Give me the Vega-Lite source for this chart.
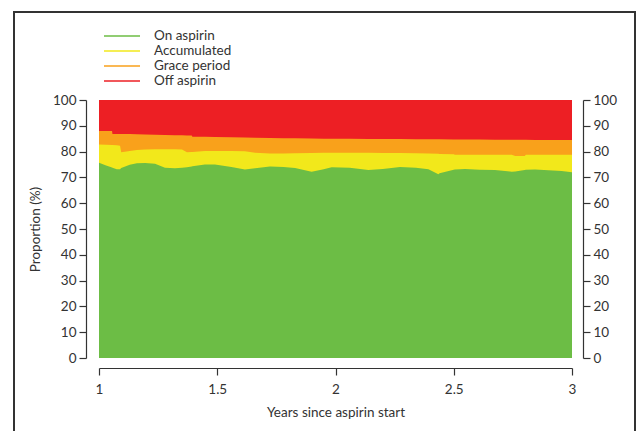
{
  "$schema": "https://vega.github.io/schema/vega-lite/v6.json",
  "width": 473,
  "height": 258,
  "autosize": "none",
  "padding": {"left": 99, "top": 100, "right": 64, "bottom": 73},
  "background": "white",
  "config": {
    "font": "Lato",
    "view": {"stroke": null},
    "axis": {
      "grid": false,
      "domainColor": "#333333",
      "tickColor": "#333333",
      "labelColor": "#333333",
      "titleColor": "#333333",
      "labelFontSize": 13.5,
      "titleFontSize": 13.5,
      "titleFontWeight": "normal",
      "tickSize": 7,
      "domainWidth": 1.2,
      "tickWidth": 1.2
    }
  },
  "data": {
    "values": [
      {"years": 1.000, "on": 75.7, "accumulated": 82.8, "grace": 88.0},
      {"years": 1.030, "on": 74.6, "accumulated": 82.7, "grace": 88.0},
      {"years": 1.055, "on": 73.8, "accumulated": 82.6, "grace": 88.0},
      {"years": 1.057, "on": 73.7, "accumulated": 82.6, "grace": 86.8},
      {"years": 1.075, "on": 73.2, "accumulated": 82.5, "grace": 86.8},
      {"years": 1.089, "on": 73.2, "accumulated": 82.3, "grace": 86.8},
      {"years": 1.094, "on": 73.6, "accumulated": 79.7, "grace": 86.8},
      {"years": 1.130, "on": 74.9, "accumulated": 80.2, "grace": 86.8},
      {"years": 1.160, "on": 75.5, "accumulated": 80.6, "grace": 86.7},
      {"years": 1.195, "on": 75.6, "accumulated": 80.8, "grace": 86.6},
      {"years": 1.237, "on": 75.3, "accumulated": 80.9, "grace": 86.5},
      {"years": 1.279, "on": 73.7, "accumulated": 80.9, "grace": 86.4},
      {"years": 1.321, "on": 73.5, "accumulated": 80.9, "grace": 86.3},
      {"years": 1.351, "on": 73.7, "accumulated": 80.8, "grace": 86.3},
      {"years": 1.372, "on": 73.9, "accumulated": 79.7, "grace": 86.2},
      {"years": 1.392, "on": 74.2, "accumulated": 79.8, "grace": 86.2},
      {"years": 1.395, "on": 74.3, "accumulated": 79.8, "grace": 85.8},
      {"years": 1.448, "on": 75.0, "accumulated": 80.2, "grace": 85.8},
      {"years": 1.490, "on": 75.0, "accumulated": 80.2, "grace": 85.7},
      {"years": 1.560, "on": 74.0, "accumulated": 80.2, "grace": 85.6},
      {"years": 1.617, "on": 73.1, "accumulated": 80.1, "grace": 85.5},
      {"years": 1.660, "on": 73.5, "accumulated": 79.6, "grace": 85.4},
      {"years": 1.723, "on": 74.2, "accumulated": 79.3, "grace": 85.3},
      {"years": 1.780, "on": 74.0, "accumulated": 79.3, "grace": 85.2},
      {"years": 1.829, "on": 73.6, "accumulated": 79.4, "grace": 85.2},
      {"years": 1.899, "on": 72.2, "accumulated": 79.5, "grace": 85.1},
      {"years": 1.950, "on": 73.2, "accumulated": 79.6, "grace": 85.0},
      {"years": 1.984, "on": 73.9, "accumulated": 79.6, "grace": 85.0},
      {"years": 2.060, "on": 73.7, "accumulated": 79.6, "grace": 85.0},
      {"years": 2.139, "on": 72.9, "accumulated": 79.6, "grace": 84.9},
      {"years": 2.200, "on": 73.3, "accumulated": 79.5, "grace": 84.9},
      {"years": 2.273, "on": 74.0, "accumulated": 79.5, "grace": 84.9},
      {"years": 2.340, "on": 73.7, "accumulated": 79.4, "grace": 84.8},
      {"years": 2.393, "on": 73.2, "accumulated": 79.3, "grace": 84.8},
      {"years": 2.435, "on": 71.2, "accumulated": 79.2, "grace": 84.8},
      {"years": 2.440, "on": 71.6, "accumulated": 79.1, "grace": 84.8},
      {"years": 2.500, "on": 73.0, "accumulated": 79.0, "grace": 84.7},
      {"years": 2.505, "on": 73.1, "accumulated": 78.8, "grace": 84.7},
      {"years": 2.548, "on": 73.3, "accumulated": 78.8, "grace": 84.7},
      {"years": 2.610, "on": 73.0, "accumulated": 78.8, "grace": 84.7},
      {"years": 2.674, "on": 72.9, "accumulated": 78.8, "grace": 84.6},
      {"years": 2.745, "on": 72.2, "accumulated": 78.8, "grace": 84.6},
      {"years": 2.760, "on": 72.3, "accumulated": 78.3, "grace": 84.6},
      {"years": 2.800, "on": 72.9, "accumulated": 78.3, "grace": 84.6},
      {"years": 2.805, "on": 73.0, "accumulated": 78.8, "grace": 84.6},
      {"years": 2.844, "on": 73.1, "accumulated": 78.8, "grace": 84.5},
      {"years": 2.900, "on": 72.8, "accumulated": 78.8, "grace": 84.5},
      {"years": 2.956, "on": 72.5, "accumulated": 78.8, "grace": 84.5},
      {"years": 3.000, "on": 72.0, "accumulated": 78.8, "grace": 84.5}
    ]
  },
  "layer": [
    {
      "mark": {"type": "area", "interpolate": "linear"},
      "encoding": {
        "x": {
          "field": "years",
          "type": "quantitative",
          "scale": {"domain": [1, 3], "nice": false, "zero": false},
          "axis": {
            "orient": "bottom",
            "offset": 10,
            "values": [1, 1.5, 2, 2.5, 3],
            "format": "~g",
            "labelFlush": false,
            "labelPadding": 7,
            "title": "Years since aspirin start",
            "titlePadding": 10
          }
        },
        "y": {
          "datum": 100,
          "type": "quantitative",
          "scale": {"domain": [0, 100], "nice": false},
          "axis": {
            "orient": "left",
            "offset": 13,
            "values": [0, 10, 20, 30, 40, 50, 60, 70, 80, 90, 100],
            "labelPadding": 3,
            "title": "Proportion (%)",
            "titlePadding": 10
          }
        },
        "color": {
          "datum": "Off aspirin",
          "type": "nominal",
          "scale": {
            "domain": ["On aspirin", "Accumulated", "Grace period", "Off aspirin"],
            "range": ["#6cbd45", "#f2e81b", "#f9a11b", "#ed1f24"]
          },
          "legend": {
            "orient": "none",
            "legendX": 16,
            "legendY": -71,
            "title": null,
            "padding": 0,
            "symbolType": "M-3,0H3",
            "symbolSize": 144,
            "symbolStrokeWidth": 1.6,
            "labelOffset": 25,
            "labelFontSize": 13.5,
            "labelColor": "#333333",
            "rowPadding": 1,
            "encode": {
              "symbols": {"update": {"stroke": {"scale": "color", "field": "value"}, "fill": {"value": "transparent"}}}
            }
          }
        }
      }
    },
    {
      "mark": {"type": "area", "interpolate": "linear"},
      "encoding": {
        "x": {"field": "years", "type": "quantitative", "axis": null},
        "y": {
          "field": "grace",
          "type": "quantitative",
          "scale": {"domain": [0, 100], "nice": false},
          "axis": {
            "orient": "right",
            "offset": 11,
            "values": [0, 10, 20, 30, 40, 50, 60, 70, 80, 90, 100],
            "labelPadding": 3,
            "title": null
          }
        },
        "color": {
          "datum": "Grace period",
          "type": "nominal",
          "scale": {
            "domain": ["On aspirin", "Accumulated", "Grace period", "Off aspirin"],
            "range": ["#6cbd45", "#f2e81b", "#f9a11b", "#ed1f24"]
          }
        }
      }
    },
    {
      "mark": {"type": "area", "interpolate": "linear"},
      "encoding": {
        "x": {"field": "years", "type": "quantitative", "axis": null},
        "y": {"field": "accumulated", "type": "quantitative", "axis": null},
        "color": {
          "datum": "Accumulated",
          "type": "nominal",
          "scale": {
            "domain": ["On aspirin", "Accumulated", "Grace period", "Off aspirin"],
            "range": ["#6cbd45", "#f2e81b", "#f9a11b", "#ed1f24"]
          }
        }
      }
    },
    {
      "mark": {"type": "area", "interpolate": "linear"},
      "encoding": {
        "x": {"field": "years", "type": "quantitative", "axis": null},
        "y": {"field": "on", "type": "quantitative", "axis": null},
        "color": {
          "datum": "On aspirin",
          "type": "nominal",
          "scale": {
            "domain": ["On aspirin", "Accumulated", "Grace period", "Off aspirin"],
            "range": ["#6cbd45", "#f2e81b", "#f9a11b", "#ed1f24"]
          }
        }
      }
    },
    {
      "data": {"values": [{"frame": "outer"}]},
      "mark": {"type": "rect", "fill": "transparent", "stroke": "#333333", "strokeWidth": 2, "clip": false},
      "encoding": {
        "x": {"datum": 0.6406, "type": "quantitative", "axis": null},
        "x2": {"datum": 3.2664},
        "y": {"datum": 134.1, "type": "quantitative", "axis": null},
        "y2": {"datum": -40}
      }
    }
  ],
  "resolve": {"axis": {"x": "independent", "y": "independent"}}
}
